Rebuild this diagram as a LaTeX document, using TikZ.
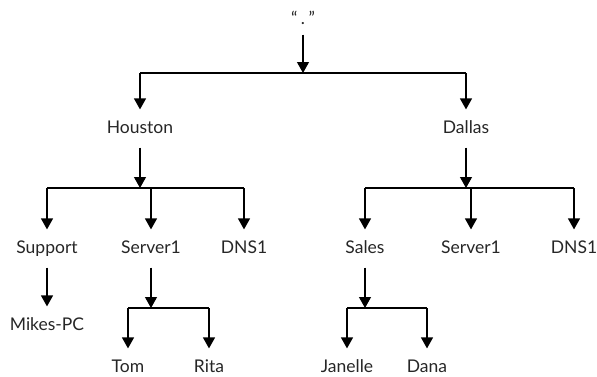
\documentclass[tikz,border=0pt]{standalone}
\usepackage{fontspec}
\setmainfont{Lato}
\usetikzlibrary{arrows.meta}
\tikzset{
  lbl/.style={anchor=base,font=\fontsize{17.5}{20}\selectfont,text=black!85,
    text height=12pt,text depth=3pt,inner xsep=2pt,inner ysep=11pt},
  arr/.style={-{Triangle[width=12pt,length=11pt]}},
}

\begin{document}
\begin{tikzpicture}[x=1pt,y=-1pt,line width=1.2pt]
  \useasboundingbox (0,0) rectangle (597,376);
  % labels sit on their baselines (y grows downward)
  \node[lbl,inner ysep=7pt] (root) at (303,24) {“\hspace{3.5pt}.\hspace{3.5pt}”};
  \foreach \n/\x/\y/\t in {houston/140/133/Houston,dallas/466/133/Dallas,
      support/47/253/Support,srvH/151/253/Server1,dnsH/244/253/DNS1,
      sales/365/253/Sales,srvD/471/253/Server1,dnsD/574/253/DNS1,
      mikes/47/330/Mikes-PC,tom/128/372/Tom,rita/209/372/Rita,
      janelle/347/372/Janelle,dana/427/372/Dana}
    \node[lbl] (\n) at (\x,\y) {\t};
  % branch lines
  \coordinate (bus0) at (303,73);
  \coordinate (busH) at (140,188);
  \coordinate (busD) at (466,188);
  \coordinate (busS) at (151,308);
  \coordinate (busSa) at (365,308);
  \draw (bus0 -| houston) -- (bus0 -| dallas);
  \draw (busH -| support) -- (busH -| dnsH);
  \draw (busD -| sales) -- (busD -| dnsD);
  \draw (busS -| tom) -- (busS -| rita);
  \draw (busSa -| janelle) -- (busSa -| dana);
  % arrows
  \draw[arr] (root.south) -- (bus0);
  \draw[arr] (houston.south) -- (busH);
  \draw[arr] (dallas.south) -- (busD);
  \draw[arr] (srvH.south) -- (busS);
  \draw[arr] (sales.south) -- (busSa);
  \draw[arr] (support.south) -- (mikes.north);
  \foreach \n in {houston,dallas} \draw[arr] (bus0 -| \n) -- (\n.north);
  \foreach \n in {support,srvH,dnsH} \draw[arr] (busH -| \n) -- (\n.north);
  \foreach \n in {sales,srvD,dnsD} \draw[arr] (busD -| \n) -- (\n.north);
  \foreach \n in {tom,rita} \draw[arr] (busS -| \n) -- (\n.north);
  \foreach \n in {janelle,dana} \draw[arr] (busSa -| \n) -- (\n.north);
\end{tikzpicture}
\end{document}
